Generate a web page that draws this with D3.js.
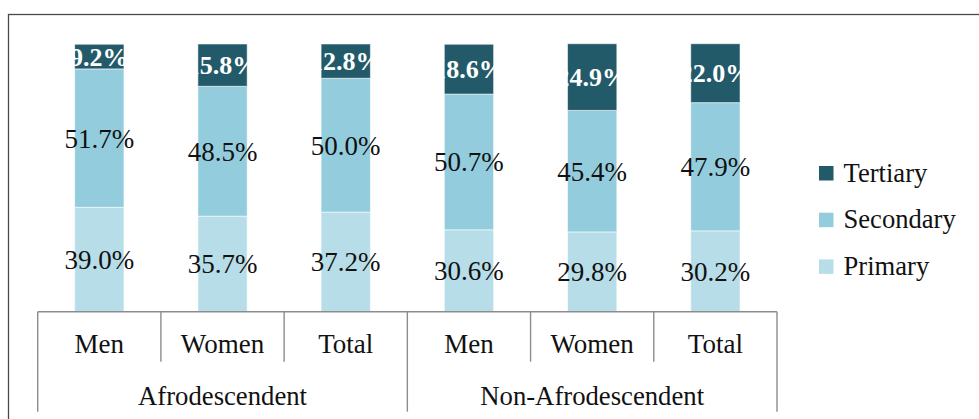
<!DOCTYPE html>
<html>
<head>
<meta charset="utf-8">
<script src="https://cdn.jsdelivr.net/npm/d3@7"></script>
<style>
  body { margin: 0; background: #fff; }
  svg { display: block; }
</style>
</head>
<body>
<svg id="chart" width="979" height="419"></svg>
<script>
// data
var groups = ["Afrodescendent", "Non-Afrodescendent"];
var subgroups = ["Men", "Women", "Total"];
var levels = ["Primary", "Secondary", "Tertiary"];
var primary = [39.0, 35.7, 37.2, 30.6, 29.8, 30.2];
var secondary = [51.7, 48.5, 50.0, 50.7, 45.4, 47.9];
var tertiary = [9.2, 15.8, 12.8, 18.6, 24.9, 22.0];

var colors = { Primary: "#b7dee8", Secondary: "#93cddd", Tertiary: "#235a69" };

var rows = [];
groups.forEach(function(g, gi) {
  subgroups.forEach(function(s, si) {
    var i = gi * subgroups.length + si;
    rows.push({ key: g + "|" + s, group: g, sub: s,
      Primary: primary[i], Secondary: secondary[i], Tertiary: tertiary[i] });
  });
});

var svg = d3.select("#chart");

// outer frame (runs off the right and bottom edge)
svg.append("rect")
  .attr("x", 8.5).attr("y", 14.5)
  .attr("width", 1000).attr("height", 420)
  .attr("fill", "none").attr("stroke", "#4a4a4a").attr("stroke-width", 1.3);

var plotL = 37.7, plotR = 777, plotT = 44, plotB = 311.7;

var x = d3.scaleBand().domain(rows.map(function(d) { return d.key; }))
  .range([plotL, plotR]).padding(0);
var y = d3.scaleLinear().domain([0, 100]).range([plotB, plotT]);
var bw = x.bandwidth();

var stack = d3.stack().keys(levels)(rows);

var layer = svg.selectAll("g.layer").data(stack).enter().append("g")
  .attr("class", "layer")
  .attr("fill", function(d) { return colors[d.key]; });

layer.selectAll("rect").data(function(d) { return d; }).enter().append("rect")
  .attr("x", function(d) { return x(d.data.key) + bw * 0.3; })
  .attr("width", bw * 0.4)
  .attr("y", function(d) { return y(d[1]); })
  .attr("height", function(d) { return y(d[0]) - y(d[1]); })
  .attr("stroke", "rgba(255,255,255,0.55)").attr("stroke-width", 1);

var font = "'Liberation Serif', 'Times New Roman', serif";

// value labels (white ones vanish outside the bar, like the original)
stack.forEach(function(s) {
  var isTop = s.key === "Tertiary";
  svg.append("g").selectAll("text").data(s).enter().append("text")
    .attr("x", function(d) { return x(d.data.key) + bw / 2; })
    .attr("y", function(d) { return (y(d[0]) + y(d[1])) / 2; })
    .attr("dy", "0.35em")
    .attr("text-anchor", "middle")
    .attr("font-family", font)
    .attr("font-size", isTop ? 26 : 27)
    .attr("font-weight", isTop ? "bold" : "normal")
    .attr("fill", isTop ? "#ffffff" : "#111")
    .text(function(d) { return d.data[s.key].toFixed(1) + "%"; });
});

// category axis
var axis = svg.append("g").attr("stroke", "#8c8c8c").attr("stroke-width", 1.4);
axis.append("line").attr("x1", plotL).attr("x2", plotR)
  .attr("y1", plotB).attr("y2", plotB);
rows.forEach(function(d, i) {
  var long = i % subgroups.length === 0;
  axis.append("line")
    .attr("x1", x(d.key)).attr("x2", x(d.key))
    .attr("y1", plotB).attr("y2", long ? 411.7 : 361.7);
});
axis.append("line").attr("x1", plotR).attr("x2", plotR)
  .attr("y1", plotB).attr("y2", 411.7);

svg.append("g").selectAll("text").data(rows).enter().append("text")
  .attr("x", function(d) { return x(d.key) + bw / 2; })
  .attr("y", 353)
  .attr("text-anchor", "middle")
  .attr("font-family", font).attr("font-size", 27).attr("fill", "#111")
  .text(function(d) { return d.sub; });

svg.append("g").selectAll("text").data(groups).enter().append("text")
  .attr("x", function(g) {
    var first = x(g + "|" + subgroups[0]);
    var last = x(g + "|" + subgroups[subgroups.length - 1]) + bw;
    return (first + last) / 2;
  })
  .attr("y", 405)
  .attr("text-anchor", "middle")
  .attr("font-family", font).attr("font-size", 26.7).attr("fill", "#111")
  .text(function(g) { return g; });

// legend
var legend = svg.append("g").selectAll("g").data(levels.slice().reverse()).enter().append("g")
  .attr("transform", function(d, i) { return "translate(819," + (166 + i * 46.7) + ")"; });
legend.append("rect").attr("width", 14.5).attr("height", 14.5)
  .attr("fill", function(d) { return colors[d]; });
legend.append("text").attr("x", 24.5).attr("y", 15.5)
  .attr("font-family", font).attr("font-size", 26.6).attr("fill", "#111")
  .text(function(d) { return d; });
</script>
</body>
</html>
